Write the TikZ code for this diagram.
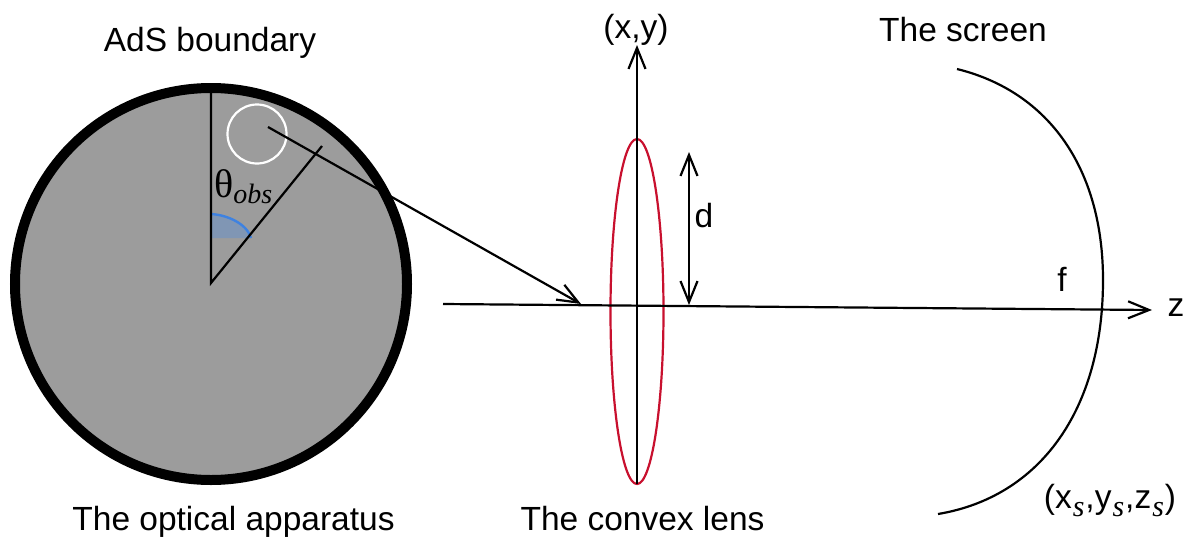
\documentclass[tikz,border=0pt]{standalone}
\usepackage{fontspec}
\setmainfont{Liberation Sans}
\newfontfamily\serifit{Liberation Serif}
\usetikzlibrary{arrows.meta,shapes.geometric}
\definecolor{lensred}{RGB}{200,16,46}
\definecolor{arcblue}{RGB}{62,130,225}
\definecolor{arcfill}{RGB}{128,150,180}
\tikzset{
  lbl/.style={font=\fontsize{33.5}{38}\selectfont, inner sep=0pt, anchor=base},
  ink/.style={draw=black, line width=2.2pt},
  barb/.tip={Straight Barb[length=21pt,width=17pt,line width=2.2pt]},
}
\newcommand{\subs}{\kern1pt\raisebox{-8pt}{\fontsize{30}{30}\selectfont\serifit\itshape s}\kern1pt}
\begin{document}
\begin{tikzpicture}[x=1pt,y=-1pt]
\useasboundingbox (0,0) rectangle (1189,536);
% sphere
\node[circle, draw=black, line width=10pt, fill=black!39, minimum size=392pt, inner sep=0pt] (sphere) at (211,284) {};
\coordinate (top) at (211,90);
\coordinate (centre) at (211,283);
\coordinate (radial) at (322,146);
\coordinate (arcA) at (211,214);
\coordinate (arcB) at (251,238);
\fill[fill=arcfill] (arcA) .. controls (228,215) and (247,224) .. (arcB) -- (211,238) -- cycle;
\draw[draw=arcblue, line width=2.4pt] (arcA) .. controls (228,215) and (247,224) .. (arcB);
\draw[ink] (top) -- (centre) -- (radial);
\node[circle, draw=white, line width=2.2pt, minimum size=59pt, inner sep=0pt] (spot) at (257,134) {};
% lens
\node[ellipse, draw=lensred, line width=2.2pt, minimum width=53pt, minimum height=345pt, inner sep=0pt] (lens) at (637,311.5) {};
% axes
\coordinate (zstart) at (443,304);
\coordinate (zend) at (1152,310);
\coordinate (ybot) at (637,484);
\coordinate (ytop) at (637,45);
\draw[ink,-barb] (zstart) -- (zend);
\draw[ink,-barb] (ybot) -- (ytop);
% ray
\coordinate (rayA) at (268,127);
\coordinate (rayB) at (581,304);
\draw[ink,-barb] (rayA) -- (rayB);
% d
\coordinate (dA) at (689,152);
\coordinate (dB) at (689,305);
\draw[ink,barb-barb] (dA) -- (dB);
% screen
\coordinate (scrA) at (957,69);
\coordinate (scrM) at (1103,280);
\coordinate (scrB) at (938,514);
\draw[ink] (scrA) .. controls (1050,92) and (1103,170) .. (scrM) .. controls (1103,410) and (1040,497) .. (scrB);
% labels
\node[lbl] (l1) at (210,51) {AdS boundary};
\node[lbl] (l2) at (636,38) {(x,y)};
\node[lbl] (l3) at (963,41) {The screen};
\node[lbl] (l4) at (233.5,530) {The optical apparatus};
\node[lbl] (l5) at (642.5,530) {The convex lens};
\node[lbl] (l6) at (704,227) {d};
\node[lbl] (l7) at (1062,291) {f};
\node[lbl] (l8) at (1176,316) {z};
\node[lbl] (l9) at (1110,508) {(x\subs,y\subs,z\subs)};
\node[inner sep=0pt, anchor=base west] (l10) at (214,197) {\fontsize{40}{40}\selectfont\serifit θ\raisebox{-6pt}{\fontsize{28}{28}\selectfont\itshape obs}};
\end{tikzpicture}
\end{document}
